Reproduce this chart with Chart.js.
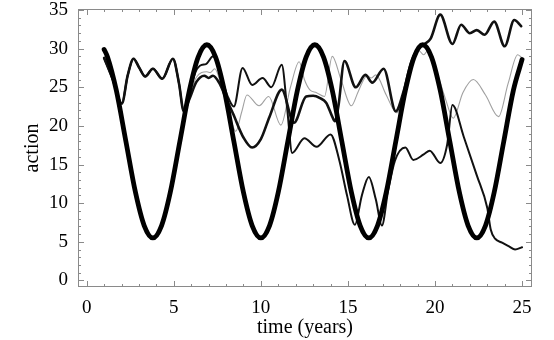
<!DOCTYPE html>
<html><head><meta charset="utf-8">
<script src="https://cdn.jsdelivr.net/npm/chart.js@4/dist/chart.umd.min.js"></script>
<style>html,body{margin:0;padding:0;background:#fff}#wrap{width:554px;height:340px}</style>
</head><body><div id="wrap"><canvas id="c" width="554" height="340"></canvas></div>
<script>
// ---- data ----
const xTickValues = [0, 5, 10, 15, 20, 25];
const yTickValues = [0, 5, 10, 15, 20, 25, 30, 35];

const thickX = [1.0,1.2,1.7,2.25,2.8,3.3,3.8,4.3,4.8,5.35,5.9,6.4,6.9,7.4,7.9,8.45,9.0,9.5,10.0,10.5,11.0,11.55,12.1,12.6,13.1,13.6,14.1,14.65,15.2,15.7,16.2,16.7,17.2,17.75,18.3,18.8,19.3,19.8,20.3,20.85,21.4,21.9,22.4,22.9,23.4,23.95,24.5,25.0];
const thickY = [29.9,28.9,24.6,18.0,11.4,7.1,5.5,7.1,11.4,18.0,24.6,28.9,30.5,28.9,24.6,18.0,11.4,7.1,5.5,7.1,11.4,18.0,24.6,28.9,30.5,28.9,24.6,18.0,11.4,7.1,5.5,7.1,11.4,18.0,24.6,28.9,30.5,28.9,24.6,18.0,11.4,7.1,5.5,7.1,11.4,18.0,24.6,28.6];

const startX = [1.0,1.5,2.02,2.35,2.69,3.0,3.36,3.8,4.34,4.95,5.3,5.57];
const startY = [28.8,26.0,22.9,26.5,28.7,27.6,26.4,27.4,26.1,28.7,25.5,21.9];

const lineAX = [5.9,6.25,6.6,6.85,7.26,7.7,8.1,8.45,8.95,9.5,10.1,10.6,11.2,11.5,11.8,12.5,13.2,14.0,14.5,14.95,15.4,15.8,16.2,16.6,16.95,17.3,17.7,18.3,18.75,19.35,19.7,20.3,20.7,21.0,21.65,22.4,23.0,23.2,23.45,23.85,24.25,24.6,25.0];
const lineAY = [24.3,27.0,27.9,28.0,29.0,26.5,23.8,22.5,27.5,25.3,26.2,25.0,27.9,22.5,16.5,18.4,17.3,18.9,15.6,11.0,7.2,11.0,13.4,10.5,7.1,11.5,15.5,17.2,15.6,16.3,16.8,15.2,17.6,22.7,18.6,13.6,9.4,6.6,5.4,4.9,4.4,4.0,4.3];

const lineGX = [5.9,6.3,6.9,7.1,7.35,7.7,8.1,8.56,8.9,9.2,9.9,10.45,11.15,11.7,12.2,12.5,12.8,13.2,13.65,14.1,14.6,15.2,15.6,16.1,16.35,16.6,17.2,17.8,18.3,18.7,19.05,19.35,19.6,20.1,20.6,21.05,21.6,22.2,22.9,23.65,24.2,24.75,24.95];
const lineGY = [23.9,26.3,27.0,26.9,27.4,25.5,22.5,19.3,21.8,24.0,22.6,23.8,20.1,25.0,28.3,26.0,24.7,24.3,23.8,29.0,26.0,22.6,24.5,26.5,26.2,26.6,24.0,21.7,24.5,28.0,29.8,29.2,29.8,27.0,23.5,21.0,24.3,26.0,24.0,21.2,25.5,29.2,28.9];

const lineDX = [5.9,6.3,6.75,7.0,7.25,7.6,8.0,8.4,9.0,9.5,10.0,10.5,11.2,11.9,12.6,13.0,13.4,13.75,14.1,14.25,14.45,14.8,15.45,16.0,16.4,17.05,17.75,18.2,18.6,19.0,19.4,19.75,20.3,21.0,21.5,22.0,22.4,22.85,23.4,24.0,24.55,24.95];
const lineDY = [23.5,25.7,26.5,26.2,26.5,25.6,23.6,21.6,18.5,17.2,18.3,21.2,24.7,20.4,23.8,23.9,23.6,23.0,21.2,20.6,22.5,28.4,25.0,26.6,25.6,27.4,21.9,24.5,28.0,30.0,30.6,31.3,34.4,30.6,33.1,32.0,32.4,31.8,33.5,30.3,33.7,32.9];

// ---- build ----
function pts(xs, ys) { return xs.map((x, i) => ({x: x, y: ys[i]})); }
function withStart(xs, ys) { return pts(startX.concat(xs), startY.concat(ys)); }

const serif = '"Liberation Serif", "Times New Roman", "DejaVu Serif", serif';
const frameCol = '#8a8a8a';

const frameTicks = {
  id: 'frameTicks',
  afterDatasetsDraw(chart) {
    const {ctx, chartArea: a, scales: {x, y}} = chart;
    ctx.save();
    ctx.strokeStyle = frameCol;
    ctx.lineWidth = 1;
    ctx.beginPath();
    const xs = xTickValues, ys = yTickValues;
    const xStep = (xs[1] - xs[0]) / 5, yStep = (ys[1] - ys[0]) / 5;
    for (let v = xs[0]; v <= xs[xs.length - 1] + 1e-9; v += xStep) {
      const px = Math.round(x.getPixelForValue(v)) + 0.5;
      const major = xs.some(t => Math.abs(t - v) < 1e-6);
      const L = major ? 6 : 3;
      ctx.moveTo(px, a.bottom); ctx.lineTo(px, a.bottom - L);
      ctx.moveTo(px, a.top); ctx.lineTo(px, a.top + L);
    }
    for (let v = ys[0]; v <= ys[ys.length - 1] + 1e-9; v += yStep) {
      const py = Math.round(y.getPixelForValue(v)) + 0.5;
      const major = ys.some(t => Math.abs(t - v) < 1e-6);
      const L = major ? 6 : 3;
      ctx.moveTo(a.left, py); ctx.lineTo(a.left + L, py);
      ctx.moveTo(a.right, py); ctx.lineTo(a.right - L, py);
    }
    ctx.stroke();
    ctx.strokeRect(a.left + 0.5, a.top + 0.5, a.width - 1, a.height - 1);
    ctx.restore();
  }
};

const common = {pointRadius: 0, fill: false, cubicInterpolationMode: 'monotone', borderJoinStyle: 'round', borderCapStyle: 'round'};

new Chart(document.getElementById('c'), {
  type: 'line',
  data: {
    datasets: [
      Object.assign({label: 'thick', data: pts(thickX, thickY), borderColor: '#000', borderWidth: 4.8}, common),
      Object.assign({label: 'A', data: withStart(lineAX, lineAY), borderColor: '#111', borderWidth: 2.0}, common),
      Object.assign({label: 'D', data: withStart(lineDX, lineDY), borderColor: '#111', borderWidth: 2.6}, common),
      Object.assign({label: 'G', data: withStart(lineGX, lineGY), borderColor: '#a0a0a0', borderWidth: 1.1}, common)
    ]
  },
  options: {
    responsive: false,
    animation: false,
    devicePixelRatio: 1,
    layout: {padding: {left: 0, top: 9, right: 22, bottom: 0}},
    plugins: {legend: {display: false}, tooltip: {enabled: false}},
    scales: {
      x: {
        type: 'linear', min: -0.5, max: 25.57,
        afterBuildTicks: s => { s.ticks = xTickValues.map(v => ({value: v})); },
        ticks: {color: '#000', font: {family: serif, size: 19}, padding: 10, maxRotation: 0, autoSkip: false},
        grid: {display: false, drawTicks: false},
        border: {display: false},
        title: {display: true, text: 'time (years)', color: '#000', font: {family: serif, size: 20}, padding: {top: 0, bottom: 0}},
        afterFit: s => { s.height = 53; s.paddingLeft = 0; s.paddingRight = 0; }
      },
      y: {
        type: 'linear', min: -0.85, max: 35.13,
        afterBuildTicks: s => { s.ticks = yTickValues.map(v => ({value: v})); },
        ticks: {color: '#000', font: {family: serif, size: 19}, padding: 10},
        grid: {display: false, drawTicks: false},
        border: {display: false},
        title: {display: true, text: 'action', color: '#000', font: {family: serif, size: 20}, padding: {top: 21, bottom: 0}},
        afterFit: s => { s.width = 78; s.paddingTop = 0; s.paddingBottom = 0; }
      }
    }
  },
  plugins: [frameTicks]
});
</script></body></html>
